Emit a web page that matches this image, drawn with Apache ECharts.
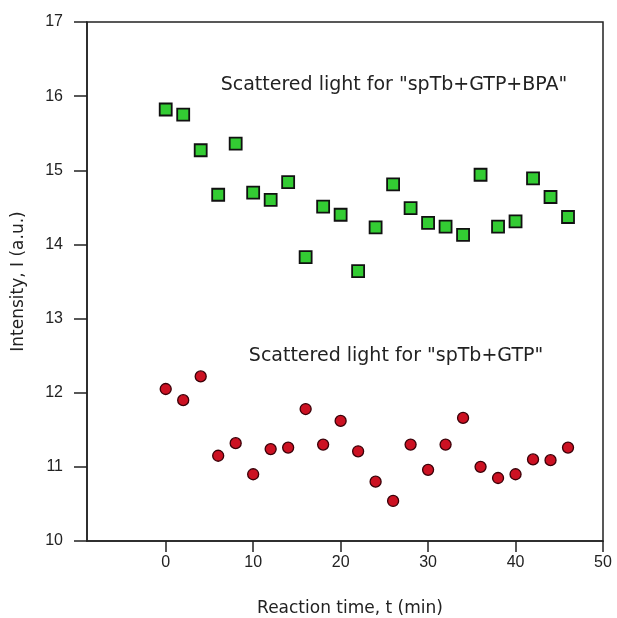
<!DOCTYPE html>
<html>
<head>
<meta charset="utf-8">
<script src="https://cdn.jsdelivr.net/npm/echarts@6/dist/echarts.min.js"></script>
<style>html,body{margin:0;padding:0;background:#fff}#c{width:617px;height:618px}</style>
</head>
<body>
<div id="c"></div>
<script>
var times = [0,2,4,6,8,10,12,14,16,18,20,22,24,26,28,30,32,34,36,38,40,42,44,46];
var bpaValues = [15.82,15.75,15.27,14.67,15.36,14.70,14.60,14.84,13.83,14.51,14.40,13.64,14.23,14.81,14.49,14.29,14.24,14.13,14.94,14.24,14.31,14.89,14.64,14.37];
var gtpValues = [12.05,11.90,12.22,11.15,11.32,10.90,11.24,11.26,11.78,11.30,11.62,11.21,10.80,10.54,11.30,10.96,11.30,11.66,11.00,10.85,10.90,11.10,11.09,11.26];
var xTicks = [0,10,20,30,40,50];
var labelBpa = 'Scattered light for "spTb+GTP+BPA"';
var labelGtp = 'Scattered light for "spTb+GTP"';

function pairs(xs, ys){ return xs.map(function(x,i){ return [x, ys[i]]; }); }

var font = 'Liberation Sans, Arial, sans-serif';
var wideFont = 'DejaVu Sans, sans-serif';
var annFont = '19px DejaVu Sans, sans-serif';
var chart = echarts.init(document.getElementById('c'));
chart.setOption({
  backgroundColor: '#fff',
  animation: false,
  grid: { left: 87, right: 14, top: 22, bottom: 77, show: true, borderColor: '#222', borderWidth: 1.5, containLabel: false, outerBoundsMode: 'none' },
  xAxis: {
    type: 'value', min: -9, max: 50,
    name: 'Reaction time, t (min)', nameLocation: 'middle', nameGap: 59, nameMoveOverlap: false,
    nameTextStyle: { fontFamily: wideFont, fontSize: 17, color: '#222', padding: [0, 0, 0, 10] },
    axisLine: { show: true, onZero: false, lineStyle: { color: '#222', width: 1.5 } },
    axisTick: { show: true, customValues: xTicks, length: 11, lineStyle: { color: '#222', width: 1.5 } },
    axisLabel: { customValues: xTicks, margin: 14, fontFamily: font, fontSize: 16, color: '#222' },
    splitLine: { show: false }
  },
  yAxis: {
    type: 'value', min: 10, max: 17, interval: 1,
    name: 'Intensity, I (a.u.)', nameLocation: 'middle', nameGap: 60,
    nameTextStyle: { fontFamily: wideFont, fontSize: 17, color: '#222' },
    axisLine: { show: true, onZero: false, lineStyle: { color: '#222', width: 1.5 } },
    axisTick: { show: true, length: 13, lineStyle: { color: '#222', width: 1.5 } },
    axisLabel: { margin: 24, fontFamily: font, fontSize: 16, color: '#222' },
    splitLine: { show: false }
  },
  series: [
    {
      type: 'scatter', name: 'BPA', data: pairs(times, bpaValues),
      symbol: 'rect', symbolSize: 12,
      itemStyle: { color: '#33cc33', opacity: 1, borderColor: '#111', borderWidth: 1.8 }
    },
    {
      type: 'scatter', name: 'GTP', data: pairs(times, gtpValues),
      symbol: 'circle', symbolSize: 11,
      itemStyle: { color: '#cc1122', opacity: 1, borderColor: '#3a0008', borderWidth: 1.3 }
    }
  ],
  graphic: [
    { type: 'text', x: 394, y: 85, style: { text: labelBpa, font: annFont, fill: '#222', align: 'center', verticalAlign: 'middle' } },
    { type: 'text', x: 396, y: 356, style: { text: labelGtp, font: annFont, fill: '#222', align: 'center', verticalAlign: 'middle' } }
  ]
});
</script>
</body>
</html>
